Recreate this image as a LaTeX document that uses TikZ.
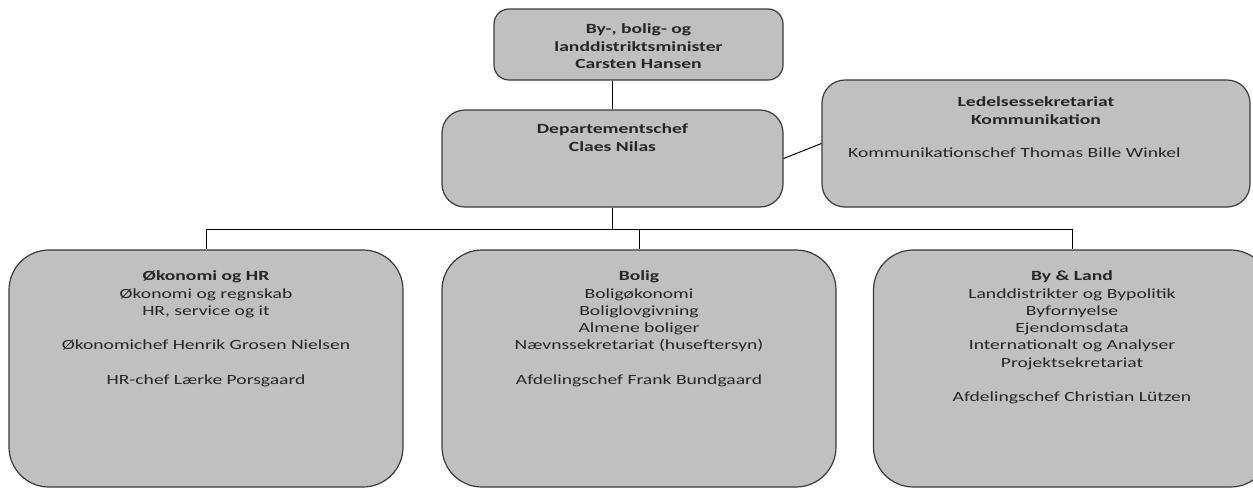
\documentclass[tikz,border=0pt]{standalone}
\usepackage{fontspec}
\setmainfont{Carlito}[FakeStretch=1.4]
\definecolor{boxfill}{HTML}{C0C0C0}
\definecolor{boxline}{HTML}{3A3A3A}
\definecolor{txtcol}{HTML}{262626}
\tikzset{
  orgbox/.style={draw=boxline, fill=boxfill, line width=1.2pt, inner sep=0pt},
  smallbox/.style={orgbox, rounded corners=15pt},
  midbox/.style={orgbox, rounded corners=23pt},
  bigbox/.style={orgbox, rounded corners=40pt},
  txt/.style={inner sep=0pt, align=center, text=txtcol, font=\fontsize{14}{17.3}\selectfont},
  conn/.style={draw=black, line width=1pt},
}
\begin{document}
\begin{tikzpicture}[x=1pt,y=-1pt]
\useasboundingbox (0,0) rectangle (1253,488);
\clip (0,0) rectangle (1253,488);
% boxes
\node[smallbox, minimum width=289pt, minimum height=71pt] (min) at (638.5,44.5) {};
\node[midbox, minimum width=341pt, minimum height=97pt] (dept) at (612.5,158.5) {};
\node[midbox, minimum width=428pt, minimum height=127pt] (led) at (1036,143.5) {};
\node[bigbox, minimum width=394pt, minimum height=237pt] (oek) at (206,368.5) {};
\node[bigbox, minimum width=394pt, minimum height=237pt] (bol) at (639,368.5) {};
\node[bigbox, minimum width=397pt, minimum height=237pt] (byl) at (1072,368.5) {};
% texts
\node[txt, anchor=north] (minT) at ([yshift=-13pt]min.north) {\strut\textbf{By-, bolig- og}\\\textbf{landdistriktsminister}\\\textbf{Carsten Hansen}};
\node[txt, anchor=north] (deptT) at ([yshift=-12pt]dept.north) {\strut\textbf{Departementschef}\\\textbf{Claes Nilas}};
\node[txt, anchor=north] (ledT) at ([yshift=-15pt]led.north) {\strut\textbf{Ledelsessekretariat}\\\textbf{Kommunikation}};
\node[txt, anchor=base west] (ledC) at (848,157) {Kommunikationschef Thomas Bille Winkel};
\node[txt, anchor=north] (oekT) at ([yshift=-19pt]oek.north) {\strut\textbf{Økonomi og HR}\\Økonomi og regnskab\\HR, service og it\\[17.3pt]Økonomichef Henrik Grosen Nielsen\\[17.3pt]HR-chef Lærke Porsgaard};
\node[txt, anchor=north] (bolT) at ([yshift=-19pt]bol.north) {\strut\textbf{Bolig}\\Boligøkonomi\\Boliglovgivning\\Almene boliger\\Nævnssekretariat (huseftersyn)\\[17.3pt]Afdelingschef Frank Bundgaard};
\node[txt, anchor=north] (bylT) at ([yshift=-19pt]byl.north) {\strut\textbf{By \& Land}\\Landdistrikter og Bypolitik\\Byfornyelse\\Ejendomsdata\\Internationalt og Analyser\\Projektsekretariat\\[17.3pt]Afdelingschef Christian Lützen};
% connectors
\coordinate (bus) at (612.5,229);
\draw[conn] (dept.north) -- (dept.north |- min.south);
\draw[conn] (dept.east) -- (led.west);
\draw[conn] (dept.south) -- (bus);
\draw[conn] (oek.north) -- (oek.north |- bus) -- (byl.north |- bus) -- (byl.north);
\draw[conn] (bol.north) -- (bol.north |- bus);
\end{tikzpicture}
\end{document}
